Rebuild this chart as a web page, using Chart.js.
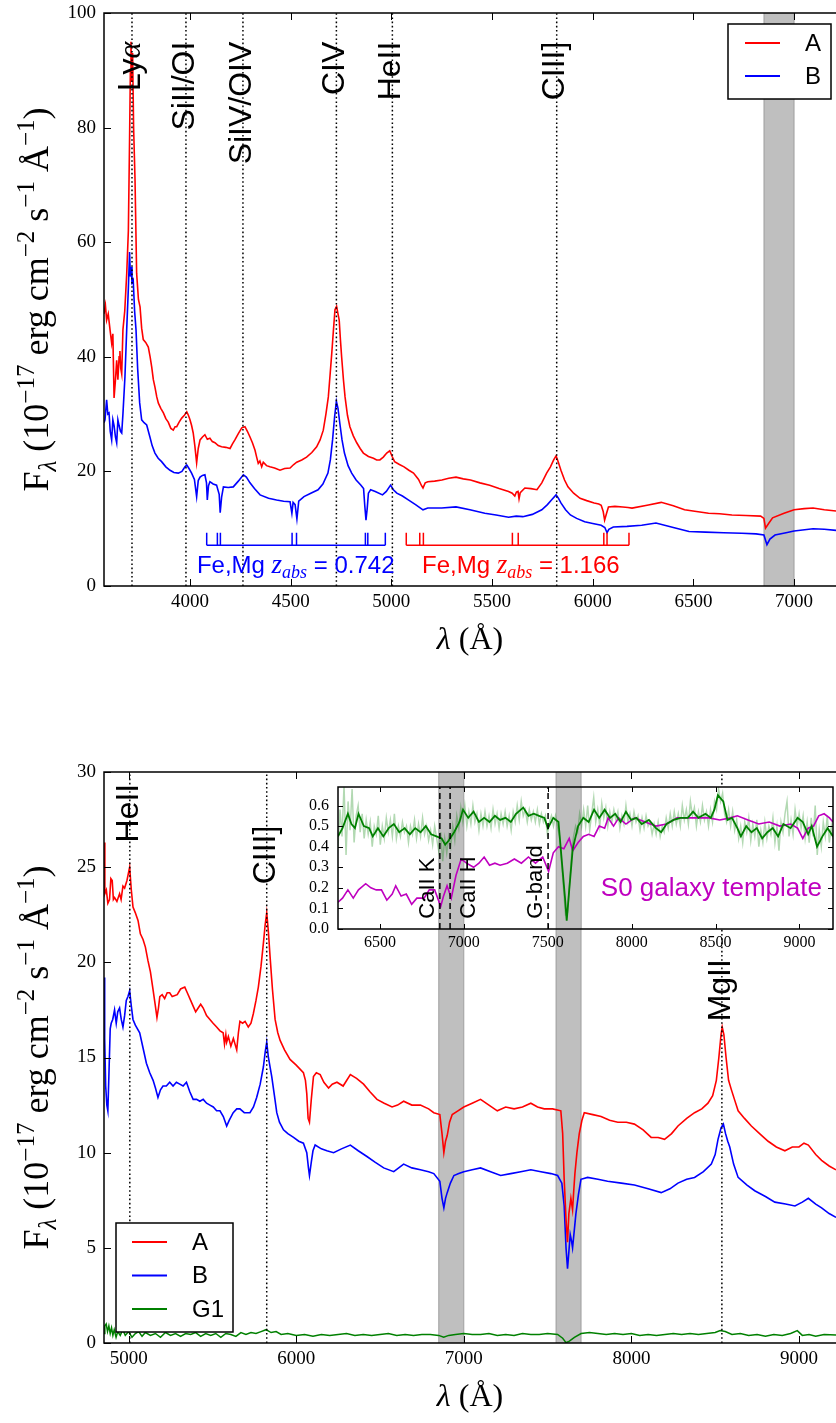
<!DOCTYPE html>
<html>
<head>
<meta charset="utf-8">
<script src="https://cdn.jsdelivr.net/npm/chart.js@4.4.0/dist/chart.umd.min.js"></script>
<style>
  body { margin: 0; background: #fff; width: 836px; height: 1423px; position: relative; overflow: hidden; }
  canvas { position: absolute; }
</style>
</head>
<body>
<canvas id="top" width="836" height="700" style="left:0;top:0"></canvas>
<canvas id="bot" width="836" height="723" style="left:0;top:700px"></canvas>
<canvas id="ins" width="556" height="200" style="left:280px;top:760px"></canvas>
<script>
// ---- data: [wavelength (A), flux] ----
const topA = [[3573,47.5],[3580,49],[3586,46.4],[3594,47.5],[3603,44.7],[3611,42.4],[3617,44],[3623,32.8],[3630,36],[3636,39.4],
  [3642,36],[3648,40],[3652,41],[3656,38],[3661,37],[3667,44.7],[3676,48],[3686,54.6],[3694,62],[3700,78],[3704,90],[3707,95],
  [3711,88],[3715,93],[3720,80],[3727,71],[3735,54.6],[3744,50],[3752,48.7],[3760,45],[3768,43],[3780,42.5],[3793,41.7],[3802,40],
  [3810,38.2],[3818,36],[3826,34.7],[3835,33],[3843,31.9],[3855,31],[3868,30.2],[3880,29.2],[3892,28.6],[3905,27.5],[3917,27.2],
  [3926,27.8],[3934,27.8],[3946,28.6],[3959,29.3],[3972,29.8],[3984,30.4],[3992,29.8],[4000,29],[4008,28],[4016,26.7],[4024,24.5],
  [4033,21.5],[4041,24],[4050,25.5],[4062,26],[4074,26.4],[4086,25.6],[4099,25.8],[4111,25.2],[4124,25],[4140,24.5],[4157,24.3],
  [4178,24.2],[4199,24],[4211,24.8],[4223,25.5],[4240,26.6],[4257,27.6],[4273,27.8],[4285,27],[4298,26],[4310,25],[4323,23.7],
  [4331,22.5],[4339,21.4],[4347,21.8],[4356,20.8],[4364,21.6],[4380,21],[4397,20.8],[4420,20.6],[4447,20.2],[4470,20.5],[4497,20.6],
  [4515,21.2],[4530,21.6],[4555,22],[4579,22.5],[4605,23.3],[4629,24.3],[4646,25.5],[4662,27.2],[4675,30],[4687,33],[4696,37],
  [4704,40.6],[4712,44.5],[4720,48.2],[4728,48.8],[4735,47.5],[4741,46.4],[4747,43],[4753,40],[4762,36],[4770,33],[4782,29.8],
  [4794,27.8],[4811,26.2],[4828,25],[4845,24],[4861,23.2],[4886,22.6],[4911,22.3],[4927,22],[4943,22],[4960,22.5],[4977,23.2],
  [4992,23.6],[5004,22.6],[5016,21.7],[5040,21.2],[5063,20.8],[5087,20.2],[5110,19.7],[5135,18.6],[5150,17.5],[5157,17.1],[5168,18],
  [5181,18.2],[5215,18.3],[5251,18.5],[5285,18.8],[5321,19],[5357,18.7],[5393,18.5],[5440,18],[5488,17.6],[5535,17],[5582,16.5],
  [5600,16.2],[5613,15.7],[5621,16.4],[5629,16.5],[5634,15.2],[5640,16.3],[5663,17.1],[5693,17],[5723,16.8],[5747,18],[5771,19.7],
  [5790,20.8],[5806,22],[5818,22.7],[5830,21.5],[5842,20.2],[5860,18.5],[5877,17.3],[5905,16.2],[5937,15.3],[5970,14.9],[6007,14.5],
  [6030,14.3],[6042,14.1],[6052,13],[6059,11.5],[6068,12.6],[6078,13.8],[6110,13.9],[6149,13.8],[6175,13.7],[6195,13.6],[6270,14.1],
  [6340,14.6],[6400,14],[6456,13.3],[6515,13],[6575,12.7],[6630,12.6],[6691,12.4],[6760,12.3],[6834,12.2],[6850,11.8],[6858,10.1],
  [6875,11],[6893,11.9],[6950,12.7],[7000,13.3],[7050,13.5],[7094,13.6],[7150,13.3],[7208,13.1]];

const topB = [[3573,28.5],[3578,29],[3586,32.5],[3592,30],[3598,30.2],[3604,27],[3611,25.5],[3617,29],[3623,28],[3630,26],
  [3636,25],[3642,29],[3648,28],[3655,27],[3661,26.7],[3667,30],[3677,36.5],[3686,45],[3694,52],[3700,58.3],[3704,54],[3708,55.7],
  [3712,53],[3718,53.4],[3725,48],[3732,44.7],[3740,38],[3750,32],[3760,29],[3772,28.5],[3785,28.1],[3801,26],[3812,24.5],[3826,23.2],
  [3842,22.3],[3859,21.7],[3880,20.8],[3901,20.2],[3920,19.8],[3942,19.7],[3960,20],[3975,20.8],[3984,21.1],[3995,20.5],[4008,19.7],
  [4022,18.6],[4033,15.6],[4041,18.4],[4050,19],[4062,19.3],[4074,19.4],[4082,18],[4086,15],[4092,17.5],[4099,18.2],[4115,17.8],
  [4132,17.6],[4145,16],[4150,12.8],[4157,15.5],[4166,17.3],[4190,17.2],[4215,17.3],[4240,18.3],[4265,19.4],[4280,19],[4298,18],
  [4320,17],[4348,15.9],[4390,15.3],[4430,15],[4465,14.8],[4497,14.7],[4506,12.7],[4512,14.6],[4522,14.2],[4531,11.7],[4540,14.8],
  [4566,15.6],[4600,16.2],[4636,16.8],[4660,17.8],[4685,19.7],[4697,22],[4708,25.5],[4718,29.5],[4727,32.2],[4735,31],[4744,28.4],
  [4755,25.5],[4767,23.2],[4785,21],[4803,19.7],[4825,18.5],[4849,17.6],[4862,17],[4868,14],[4874,11.5],[4880,13.5],[4886,16.2],
  [4897,16.8],[4920,16.5],[4956,15.9],[4975,16.5],[4996,17.6],[5010,16.8],[5027,16.2],[5055,15.7],[5086,15],[5120,14.2],[5157,13.3],
  [5181,13.6],[5250,13.6],[5321,13.8],[5390,13.3],[5464,12.7],[5520,12.4],[5582,12],[5620,12.2],[5653,12.1],[5700,12.5],[5747,13.3],
  [5775,14.2],[5795,15],[5818,15.9],[5830,15.3],[5842,14.5],[5865,13.3],[5889,12.4],[5920,11.8],[5960,11.2],[6000,10.9],[6042,10.6],
  [6060,10.2],[6071,9.3],[6080,9.9],[6102,10.3],[6170,10.4],[6243,10.6],[6314,11],[6400,10.2],[6478,9.5],[6560,9.4],[6650,9.3],
  [6740,9.2],[6811,9.1],[6850,8.9],[6865,7.2],[6880,8.2],[6905,8.9],[6960,9.3],[7000,9.6],[7094,10],[7150,9.9],[7208,9.7]];

const botA = [[4853,26.3],[4858,23.6],[4867,23.8],[4876,23.1],[4886,23.3],[4894,24.4],[4902,24.3],[4909,23.3],[4916,23.4],[4930,23.2],
  [4946,23.6],[4955,23.3],[4966,24],[4976,23.9],[4990,24.3],[5006,25],[5016,23.8],[5026,22.9],[5040,22.6],[5056,22.2],[5070,21.5],
  [5086,21.2],[5100,20.8],[5115,20.1],[5130,19.5],[5145,18.6],[5158,17.8],[5169,17.1],[5178,17.6],[5186,18.2],[5200,18.3],[5215,18.1],
  [5230,18.4],[5245,18.4],[5260,18.2],[5290,18.3],[5310,18.6],[5335,18.7],[5350,18.4],[5370,18],[5385,17.7],[5400,17.4],[5415,17.6],
  [5430,17.8],[5445,17.6],[5465,17.2],[5485,17],[5504,16.8],[5525,16.6],[5545,16.4],[5564,16.3],[5572,15.7],[5580,16.2],[5585,15.8],
  [5595,16.1],[5610,15.6],[5625,16],[5645,15.4],[5655,16.3],[5664,16.9],[5680,16.8],[5695,16.9],[5714,16.6],[5730,16.8],[5744,17.3],
  [5760,18],[5774,18.7],[5790,19.8],[5804,21],[5815,22],[5824,22.6],[5834,21.6],[5844,20.3],[5858,18.6],[5874,17],[5890,16.3],
  [5904,15.9],[5930,15.4],[5963,14.9],[6000,14.6],[6043,14.2],[6055,13.8],[6063,13.1],[6071,11.8],[6079,11.6],[6090,12.8],[6103,14],
  [6120,14.2],[6143,14.1],[6165,13.7],[6193,13.4],[6215,13.6],[6243,13.7],[6280,13.5],[6323,14.1],[6360,13.9],[6402,13.6],[6440,13.2],
  [6482,12.8],[6525,12.6],[6572,12.4],[6605,12.5],[6641,12.7],[6690,12.5],[6741,12.5],[6790,12.3],[6821,12.1],[6857,12],[6870,11],
  [6881,10],[6891,10.6],[6901,10.9],[6915,11.6],[6931,12],[6965,12.2],[7000,12.4],[7050,12.6],[7100,12.8],[7150,12.5],[7200,12.2],
  [7250,12.4],[7300,12.3],[7350,12.4],[7400,12.6],[7440,12.4],[7480,12.3],[7530,12.3],[7579,12.2],[7590,11],[7599,8.6],[7610,6.5],
  [7619,5.3],[7627,6.8],[7639,7.6],[7649,7],[7656,8],[7663,8.9],[7675,10],[7689,11],[7705,11.7],[7719,12.1],[7770,12],[7819,11.9],
  [7870,11.7],[7919,11.6],[7970,11.6],[8018,11.5],[8070,11.2],[8118,10.8],[8160,10.8],[8198,10.7],[8240,11],[8278,11.4],[8330,11.8],
  [8377,12.1],[8420,12.3],[8457,12.6],[8485,13],[8507,13.8],[8522,15],[8535,16.2],[8542,16.6],[8552,16.2],[8565,15],[8580,13.8],
  [8597,13.3],[8615,12.8],[8637,12.2],[8675,11.8],[8716,11.4],[8765,11],[8816,10.6],[8865,10.3],[8916,10.1],[8960,10.3],[9000,10.3],
  [9030,10.5],[9056,10.4],[9100,9.9],[9135,9.6],[9180,9.3],[9221,9.1]];

const botB = [[4853,19.2],[4857,16],[4863,13.5],[4870,12.5],[4876,12.2],[4882,14],[4890,16.5],[4896,16.8],[4905,17],[4916,17.5],
  [4926,16.8],[4935,17.4],[4946,17.6],[4956,17],[4966,16.6],[4976,17.2],[4986,18],[4996,18.2],[5006,18.5],[5016,17.7],[5026,17],
  [5040,16.7],[5066,16.3],[5086,15.5],[5106,14.7],[5126,14.2],[5146,13.8],[5160,13.4],[5175,12.9],[5190,13.3],[5205,13.5],[5225,13.5],
  [5245,13.7],[5265,13.5],[5285,13.7],[5305,13.6],[5325,13.5],[5345,13.7],[5365,13.2],[5385,12.8],[5405,12.8],[5425,12.7],[5445,12.8],
  [5465,12.6],[5485,12.5],[5505,12.4],[5525,12.2],[5545,12.2],[5565,11.9],[5585,11.4],[5600,11.7],[5624,12.1],[5645,12.3],[5664,12.3],
  [5690,12.1],[5724,12.1],[5745,12.4],[5764,12.9],[5785,13.6],[5804,14.5],[5815,15.3],[5824,15.8],[5834,15],[5854,14],[5870,13],
  [5884,12.1],[5900,11.6],[5924,11.2],[5950,11],[5984,10.8],[6015,10.6],[6043,10.5],[6063,10],[6073,9.2],[6079,8.8],[6090,9.5],
  [6100,10.1],[6113,10.4],[6150,10.2],[6183,10.1],[6223,10],[6270,10.2],[6323,10.4],[6370,10.1],[6422,9.8],[6470,9.5],[6522,9.2],
  [6582,9],[6641,9.4],[6690,9.2],[6741,9.1],[6790,9],[6821,8.9],[6857,8.5],[6870,7.6],[6881,7.1],[6891,7.6],[6901,7.9],[6920,8.4],
  [6941,8.8],[6970,8.9],[7000,9],[7050,9.1],[7100,9.2],[7160,9],[7220,8.8],[7280,8.9],[7340,9],[7400,9.1],[7460,9],[7520,8.9],
  [7560,8.8],[7585,8.4],[7599,7.2],[7610,5],[7619,3.9],[7627,4.8],[7635,5.7],[7642,5.4],[7649,5],[7658,5.8],[7669,6.8],[7684,7.8],
  [7699,8.6],[7739,8.7],[7800,8.6],[7858,8.5],[7940,8.4],[8018,8.3],[8100,8.1],[8178,7.9],[8230,8.1],[8278,8.4],[8330,8.6],[8377,8.7],
  [8430,9],[8477,9.4],[8500,9.9],[8517,10.7],[8535,11.3],[8549,11.5],[8562,11],[8575,10.6],[8587,10.3],[8610,9.4],[8637,8.7],
  [8690,8.3],[8736,8],[8800,7.7],[8856,7.4],[8920,7.3],[8976,7.2],[9020,7.4],[9056,7.6],[9100,7.3],[9135,7.1],[9180,6.8],[9221,6.6]];

const botG1 = [[4853,0.5],[4858,0.9],[4866,1.0],[4874,0.6],[4882,0.9],[4890,0.5],[4898,0.8],[4906,0.4],[4914,0.7],[4925,0.3],
  [4935,0.6],[4950,0.4],[4965,0.7],[4980,0.4],[5000,0.6],[5020,0.3],[5040,0.5],[5060,0.6],[5080,0.35],[5100,0.55],[5130,0.4],
  [5160,0.5],[5190,0.3],[5220,0.55],[5250,0.4],[5280,0.5],[5310,0.35],[5340,0.5],[5370,0.45],[5400,0.55],[5430,0.35],[5460,0.5],
  [5490,0.4],[5520,0.5],[5550,0.3],[5580,0.5],[5610,0.45],[5640,0.35],[5670,0.55],[5700,0.45],[5730,0.55],[5760,0.5],[5790,0.6],
  [5820,0.7],[5850,0.55],[5880,0.6],[5910,0.45],[5950,0.5],[6000,0.4],[6050,0.45],[6100,0.35],[6150,0.45],[6200,0.4],[6250,0.45],
  [6300,0.5],[6350,0.4],[6400,0.45],[6450,0.4],[6500,0.45],[6550,0.5],[6600,0.4],[6650,0.45],[6700,0.4],[6750,0.45],[6800,0.45],
  [6850,0.4],[6880,0.3],[6910,0.4],[6950,0.45],[7000,0.5],[7050,0.45],[7100,0.45],[7150,0.5],[7200,0.4],[7250,0.45],[7300,0.4],
  [7350,0.5],[7400,0.45],[7450,0.45],[7500,0.5],[7560,0.45],[7590,0.25],[7610,0.02],[7630,0.1],[7660,0.3],[7700,0.5],[7750,0.55],
  [7800,0.5],[7850,0.45],[7900,0.5],[7950,0.45],[8000,0.5],[8050,0.4],[8100,0.45],[8150,0.4],[8200,0.45],[8250,0.5],[8300,0.45],
  [8350,0.5],[8400,0.45],[8450,0.5],[8500,0.55],[8530,0.65],[8560,0.6],[8600,0.45],[8650,0.5],[8700,0.4],[8750,0.45],[8800,0.35],
  [8850,0.45],[8900,0.4],[8950,0.5],[8990,0.65],[9020,0.4],[9060,0.45],[9100,0.35],[9150,0.45],[9221,0.42]];

// inset: normalised G1 (smoothed and raw) and the S0 template
const insG1 = [[6250,.45],[6277,.49],[6309,.56],[6330,.51],[6351,.49],[6372,.56],[6404,.50],[6436,.49],[6457,.45],[6488,.49],
  [6520,.45],[6552,.49],[6583,.51],[6615,.47],[6647,.49],[6678,.46],[6710,.49],[6742,.47],[6773,.50],[6805,.46],[6837,.45],
  [6868,.44],[6889,.41],[6910,.43],[6942,.47],[6974,.52],[6995,.58],[7026,.54],[7058,.57],[7090,.52],[7121,.54],[7153,.52],
  [7185,.55],[7216,.53],[7248,.54],[7280,.52],[7311,.56],[7354,.59],[7385,.55],[7417,.56],[7448,.55],[7480,.54],[7501,.49],
  [7533,.54],[7564,.52],[7586,.31],[7603,.15],[7613,.04],[7628,.19],[7649,.39],[7681,.50],[7712,.54],[7744,.52],[7776,.58],
  [7807,.54],[7839,.58],[7871,.54],[7902,.56],[7934,.52],[7966,.57],[7997,.53],[8029,.54],[8060,.51],[8103,.53],[8145,.49],
  [8176,.47],[8208,.51],[8250,.53],[8292,.54],[8335,.54],[8366,.57],[8398,.54],[8440,.56],[8472,.54],[8493,.58],[8514,.65],
  [8546,.62],[8571,.53],[8598,.54],[8630,.49],[8651,.45],[8683,.50],[8714,.47],[8746,.49],[8778,.44],[8809,.47],[8841,.49],
  [8873,.45],[8904,.51],[8947,.49],[8989,.54],[9020,.52],[9052,.46],[9073,.50],[9105,.40],[9137,.45],[9168,.49],[9200,.45]];

const insRaw = [[6250,.40],[6262,.58],[6274,.45],[6286,.70],[6298,.36],[6310,.62],[6322,.48],[6334,.68],[6346,.42],[6358,.55],
  [6370,.60],[6382,.47],[6394,.56],[6406,.44],[6418,.53],[6430,.46],[6442,.52],[6454,.40],[6466,.50],[6478,.46],[6490,.55],
  [6502,.41],[6514,.50],[6526,.44],[6538,.54],[6550,.47],[6562,.53],[6574,.45],[6586,.56],[6598,.44],[6610,.50],[6622,.45],
  [6634,.52],[6646,.47],[6658,.50],[6670,.42],[6682,.50],[6694,.46],[6706,.53],[6718,.44],[6730,.51],[6742,.45],[6754,.54],
  [6766,.46],[6778,.50],[6790,.43],[6802,.48],[6814,.41],[6826,.50],[6838,.44],[6850,.38],[6862,.47],[6874,.33],[6886,.44],
  [6898,.37],[6910,.45],[6922,.40],[6934,.50],[6946,.43],[6958,.55],[6970,.49],[6982,.59],[6994,.52],[7006,.60],[7018,.50],
  [7030,.57],[7042,.51],[7054,.60],[7066,.52],[7078,.56],[7090,.48],[7102,.56],[7114,.50],[7126,.57],[7138,.50],[7150,.55],
  [7162,.49],[7174,.58],[7186,.51],[7198,.56],[7210,.49],[7222,.56],[7234,.51],[7246,.57],[7258,.50],[7270,.55],[7282,.48],
  [7294,.57],[7306,.52],[7318,.60],[7330,.53],[7342,.62],[7354,.55],[7366,.58],[7378,.52],[7390,.58],[7402,.53],[7414,.57],
  [7426,.52],[7438,.58],[7450,.51],[7462,.56],[7474,.52],[7486,.55],[7498,.46],[7510,.52],[7522,.55],[7534,.50],[7546,.55],
  [7558,.50],[7570,.45],[7582,.33],[7594,.20],[7606,.07],[7618,.08],[7630,.22],[7642,.36],[7654,.45],[7666,.50],[7678,.47],
  [7690,.56],[7702,.50],[7714,.58],[7726,.50],[7738,.60],[7750,.48],[7762,.56],[7774,.64],[7786,.52],[7798,.58],[7810,.50],
  [7822,.61],[7834,.54],[7846,.59],[7858,.50],[7870,.57],[7882,.52],[7894,.58],[7906,.53],[7918,.57],[7930,.49],[7942,.55],
  [7954,.51],[7966,.60],[7978,.52],[7990,.56],[8002,.50],[8014,.57],[8026,.52],[8038,.55],[8050,.48],[8062,.54],[8074,.49],
  [8086,.55],[8098,.50],[8110,.52],[8122,.46],[8134,.51],[8146,.46],[8158,.52],[8170,.45],[8182,.50],[8194,.47],[8206,.54],
  [8218,.49],[8230,.56],[8242,.50],[8254,.57],[8266,.51],[8278,.56],[8290,.50],[8302,.60],[8314,.53],[8326,.58],[8338,.51],
  [8350,.62],[8362,.55],[8374,.59],[8386,.50],[8398,.57],[8410,.52],[8422,.60],[8434,.53],[8446,.57],[8458,.50],[8470,.58],
  [8482,.52],[8494,.62],[8506,.58],[8518,.68],[8530,.62],[8542,.66],[8554,.56],[8566,.52],[8578,.58],[8590,.50],[8602,.57],
  [8614,.48],[8626,.53],[8638,.44],[8650,.50],[8662,.42],[8674,.52],[8686,.47],[8698,.54],[8710,.43],[8722,.51],[8734,.45],
  [8746,.53],[8758,.40],[8770,.48],[8782,.42],[8794,.52],[8806,.44],[8818,.50],[8830,.46],[8842,.54],[8854,.42],[8866,.50],
  [8878,.38],[8890,.52],[8902,.47],[8914,.56],[8926,.62],[8938,.45],[8950,.53],[8962,.46],[8974,.58],[8986,.50],[8998,.56],
  [9010,.49],[9022,.55],[9034,.44],[9046,.52],[9058,.42],[9070,.54],[9082,.45],[9094,.60],[9106,.36],[9118,.48],[9130,.40],
  [9142,.52],[9154,.45],[9166,.55],[9178,.42],[9190,.50],[9200,.44]];

const insS0 = [[6250,.13],[6277,.15],[6309,.19],[6341,.15],[6372,.19],[6415,.22],[6446,.20],[6478,.19],[6509,.19],[6541,.14],
  [6573,.17],[6594,.21],[6626,.16],[6657,.17],[6689,.12],[6720,.15],[6763,.15],[6794,.19],[6826,.19],[6862,.11],[6879,.16],
  [6900,.21],[6925,.15],[6953,.26],[6984,.34],[7016,.32],[7058,.30],[7090,.32],[7121,.35],[7153,.31],[7185,.32],[7216,.31],
  [7259,.32],[7301,.34],[7343,.32],[7385,.35],[7427,.32],[7470,.35],[7505,.28],[7533,.37],[7564,.40],[7596,.39],[7628,.44],
  [7649,.38],[7681,.42],[7712,.45],[7744,.46],[7776,.45],[7807,.50],[7839,.49],[7860,.54],[7892,.50],[7923,.54],[7966,.51],
  [8018,.54],[8081,.52],[8145,.50],[8208,.51],[8271,.54],[8335,.54],[8398,.54],[8461,.54],[8525,.53],[8588,.54],[8630,.55],
  [8693,.53],[8757,.51],[8820,.52],[8883,.50],[8947,.51],[8989,.49],[9020,.44],[9052,.49],[9084,.50],[9115,.55],[9147,.56],
  [9179,.54],[9200,.52]];

// tick labels
const topXTicks = [4000, 4500, 5000, 5500, 6000, 6500, 7000];
const topYTicks = [0, 20, 40, 60, 80, 100];
const botXTicks = [5000, 6000, 7000, 8000, 9000];
const botYTicks = [0, 5, 10, 15, 20, 25, 30];
const insXTicks = [6500, 7000, 7500, 8000, 8500, 9000];
const insYTicks = [0, 0.1, 0.2, 0.3, 0.4, 0.5, 0.6];

// emission / absorption line positions and names
const topLines = [3712, 3980, 4263, 4727, 5005, 5821];
const topLineNames = ['Lyα', 'SiII/OI', 'SiIV/OIV', 'CIV', 'HeII', 'CIII]'];
const botLines = [5007, 5824, 8540];
const botLineNames = ['HeII', 'CIII]', 'MgII'];
const botLineLabelY = [26.3, 24.1, 16.9];
const insLines = [6857, 6918, 7502];
const insLineNames = ['CaII K', 'CaII H', 'G-band'];
const telluric = [[6850, 7000], [7550, 7700]];
const absBlue = [4083, 4136, 4151, 4507, 4529, 4871, 4883, 4970];
const absRed = [5074, 5141, 5159, 5601, 5630, 6055, 6071, 6180];
const absZ = ['0.742', '1.166'];

const SANS = '"Liberation Sans", Arial, sans-serif';
const SERIF = '"Liberation Serif", "Times New Roman", serif';

function pts(pairs) { return pairs.map(p => ({ x: p[0], y: p[1] })); }
function vlines(xs, lo, hi) {
  const out = [];
  xs.forEach(x => { out.push({ x: x, y: lo }, { x: x, y: hi }, { x: x, y: null }); });
  return out;
}
function bracket(xs, base, top) {
  const out = [{ x: xs[0], y: base }, { x: xs[xs.length - 1], y: base }, { x: xs[0], y: null }];
  xs.forEach(x => { out.push({ x: x, y: base }, { x: x, y: top }, { x: x, y: null }); });
  return out;
}
function line(data, color, w, extra) {
  return Object.assign({ data: data, borderColor: color, backgroundColor: color, borderWidth: w,
    showLine: true, pointRadius: 0, tension: 0, spanGaps: false, fill: false }, extra || {});
}

// mixed-font text, optionally rotated to read bottom-to-top
function rich(ctx, segs, x, y, rot, align) {
  ctx.save();
  ctx.translate(x, y);
  if (rot) ctx.rotate(-Math.PI / 2);
  let w = 0;
  segs.forEach(s => { ctx.font = s.f; w += ctx.measureText(s.t).width; });
  let cx = align === 'end' ? -w : align === 'center' ? -w / 2 : 0;
  ctx.textAlign = 'left';
  ctx.textBaseline = 'alphabetic';
  segs.forEach(s => {
    ctx.font = s.f;
    ctx.fillStyle = s.c || '#000';
    ctx.fillText(s.t, cx, s.dy || 0);
    cx += ctx.measureText(s.t).width;
  });
  ctx.restore();
}
function nameSegs(name, size) {
  return name.split(/(α)/).filter(Boolean).map(t =>
    ({ t: t, f: t === 'α' ? 'italic ' + size + 'px ' + SERIF : size + 'px ' + SANS }));
}
const big = '36px ' + SERIF, small = '25px ' + SERIF;
const yTitle = [{ t: 'F', f: big }, { t: 'λ', f: 'italic ' + small, dy: 8 }, { t: ' (10', f: big },
  { t: '−17', f: small, dy: -14 }, { t: ' erg cm', f: big }, { t: '−2', f: small, dy: -14 },
  { t: ' s', f: big }, { t: '−1', f: small, dy: -14 }, { t: ' Å', f: big }, { t: '−1', f: small, dy: -14 },
  { t: ')', f: big }];
const xTitle = [{ t: 'λ', f: 'italic 32px ' + SERIF }, { t: ' (Å)', f: '32px ' + SERIF }];

function frame(chart, f) {
  const { ctx, chartArea: a, scales: { x, y } } = chart;
  ctx.save();
  ctx.strokeStyle = '#000';
  ctx.lineWidth = 1;
  ctx.beginPath();
  x.ticks.forEach(t => {
    const p = Math.round(x.getPixelForValue(t.value)) + 0.5;
    ctx.moveTo(p, a.bottom); ctx.lineTo(p, a.bottom - f.tl);
    ctx.moveTo(p, a.top); ctx.lineTo(p, a.top + f.tl);
  });
  y.ticks.forEach(t => {
    const p = Math.round(y.getPixelForValue(t.value)) + 0.5;
    ctx.moveTo(a.left, p); ctx.lineTo(a.left + f.tl, p);
    if (f.right) { ctx.moveTo(a.right, p); ctx.lineTo(a.right - f.tl, p); }
  });
  ctx.stroke();
  ctx.lineWidth = 1.5;
  ctx.beginPath();
  if (f.right) ctx.rect(a.left, a.top, a.right - a.left, a.bottom - a.top);
  else {
    ctx.moveTo(a.right + 2, a.top); ctx.lineTo(a.left, a.top);
    ctx.lineTo(a.left, a.bottom); ctx.lineTo(a.right + 2, a.bottom);
  }
  ctx.stroke();
  ctx.restore();
}

function legend(chart, L) {
  const ctx = chart.ctx;
  const items = chart.data.datasets.filter(d => d.inLegend);
  ctx.save();
  ctx.fillStyle = '#fff';
  ctx.fillRect(L.x, L.y, L.w, L.h);
  ctx.strokeStyle = '#000';
  ctx.lineWidth = 1.5;
  ctx.strokeRect(L.x, L.y, L.w, L.h);
  items.forEach((d, i) => {
    const yy = L.y0 + i * L.dy;
    ctx.strokeStyle = d.borderColor;
    ctx.lineWidth = 2;
    ctx.beginPath(); ctx.moveTo(L.x1, yy); ctx.lineTo(L.x2, yy); ctx.stroke();
    ctx.fillStyle = '#000';
    ctx.font = '24px ' + SANS;
    ctx.textBaseline = 'middle';
    ctx.textAlign = 'left';
    ctx.fillText(d.label, L.tx, yy + 1);
  });
  ctx.restore();
}

function makeDecor(c) {
  return {
    id: 'decor',
    beforeDraw(chart) {
      if (!c.white) return;
      const a = chart.chartArea, ctx = chart.ctx;
      ctx.save();
      ctx.fillStyle = '#fff';
      ctx.fillRect(a.left, a.top, a.right - a.left, a.bottom - a.top);
      ctx.restore();
    },
    beforeDatasetsDraw(chart) {
      const { ctx, chartArea: a, scales: { x } } = chart;
      ctx.save();
      c.bands.forEach(b => {
        const p0 = Math.max(x.getPixelForValue(b[0]), a.left);
        const p1 = Math.min(x.getPixelForValue(b[1]), a.right);
        if (p1 <= p0) return;
        ctx.fillStyle = 'rgba(128,128,128,0.5)';
        ctx.fillRect(p0, a.top, p1 - p0, a.bottom - a.top);
        ctx.strokeStyle = 'rgba(128,128,128,0.5)';
        ctx.lineWidth = 1.2;
        ctx.beginPath();
        ctx.moveTo(p0, a.top); ctx.lineTo(p0, a.bottom);
        ctx.moveTo(p1, a.top); ctx.lineTo(p1, a.bottom);
        ctx.stroke();
      });
      ctx.restore();
    },
    afterDatasetsDraw(chart) {
      const { ctx, chartArea: a, scales: { x, y } } = chart;
      c.labels.forEach(L => rich(ctx, L.segs, x.getPixelForValue(L.x) + (L.dx || 0),
        y.getPixelForValue(L.y), L.rot, L.align));
      frame(chart, c.frame);
      if (c.legend) legend(chart, c.legend);
      if (c.titles) {
        rich(ctx, yTitle, 48, (a.top + a.bottom) / 2, true, 'center');
        rich(ctx, xTitle, (a.left + a.right) / 2, a.bottom + 63, false, 'center');
      }
    }
  };
}

function scales(o) {
  return {
    x: {
      type: 'linear', min: o.xmin, max: o.xmax,
      grid: { display: false, drawTicks: false }, border: { display: false },
      ticks: { autoSkip: false, maxRotation: 0, padding: o.xpad,
        color: '#000', font: { family: 'Liberation Serif', size: o.fs }, callback: v => String(v) },
      afterBuildTicks: s => { s.ticks = o.xticks.map(v => ({ value: v })); },
      afterFit: s => { s.height = o.xh; s.paddingLeft = 0; s.paddingRight = 0; }
    },
    y: {
      type: 'linear', min: o.ymin, max: o.ymax,
      grid: { display: false, drawTicks: false }, border: { display: false },
      ticks: { autoSkip: false, padding: o.ypad,
        color: '#000', font: { family: 'Liberation Serif', size: o.fs }, callback: o.yfmt },
      afterBuildTicks: s => { s.ticks = o.yticks.map(v => ({ value: v })); },
      afterFit: s => { s.width = o.yw; s.paddingTop = 0; s.paddingBottom = 0; }
    }
  };
}

function base(padding, sc) {
  return {
    responsive: false, animation: false, events: [], devicePixelRatio: 1,
    layout: { padding: padding },
    plugins: { legend: { display: false }, tooltip: { enabled: false } },
    scales: sc
  };
}

// ---------- top panel ----------
const dotted = { borderDash: [1.6, 2.6], order: 0 };
const felabel = (z, c) => [{ t: 'Fe,Mg ', f: '24px ' + SANS, c: c }, { t: 'z', f: 'italic 27px ' + SERIF, c: c },
  { t: 'abs', f: 'italic 18px ' + SERIF, c: c, dy: 5 }, { t: ' = ' + z, f: '24px ' + SANS, c: c }];

new Chart(document.getElementById('top'), {
  type: 'scatter',
  data: { datasets: [
    line(pts(topA), '#ff0000', 1.6, { label: 'A', inLegend: true, order: 2 }),
    line(pts(topB), '#0000ff', 1.6, { label: 'B', inLegend: true, order: 2 }),
    line(vlines(topLines, 0, 100), '#000', 1.5, dotted),
    line(bracket(absBlue, 7.1, 9.3), '#0000ff', 1.5, { order: 1 }),
    line(bracket(absRed, 7.1, 9.3), '#ff0000', 1.5, { order: 1 })
  ] },
  options: base({ top: 13, left: 0, right: 0, bottom: 84 },
    scales({ xmin: 3573, xmax: 7208, xticks: topXTicks, ymin: 0, ymax: 100, yticks: topYTicks, fs: 19,
      xpad: 5, ypad: 8, xh: 30, yw: 104, yfmt: v => String(v) })),
  plugins: [makeDecor({
    bands: [telluric[0]],
    frame: { tl: 7, right: false },
    titles: true,
    legend: { x: 728, y: 24, w: 103, h: 75, y0: 43, dy: 33, x1: 745, x2: 780, tx: 805 },
    labels: topLines.map((l, i) => ({ x: l, y: 95, dx: 7.7, rot: true, align: 'end', segs: nameSegs(topLineNames[i], 32) }))
      .concat([{ x: 4525, y: 2.3, align: 'center', segs: felabel(absZ[0], '#0000ff') },
               { x: 5643, y: 2.3, align: 'center', segs: felabel(absZ[1], '#ff0000') }])
  })]
});

// ---------- bottom panel ----------
new Chart(document.getElementById('bot'), {
  type: 'scatter',
  data: { datasets: [
    line(pts(botA), '#ff0000', 1.6, { label: 'A', inLegend: true, order: 2 }),
    line(pts(botB), '#0000ff', 1.6, { label: 'B', inLegend: true, order: 2 }),
    line(pts(botG1), '#008000', 1.5, { label: 'G1', inLegend: true, order: 3 }),
    line(vlines(botLines, 0, 30), '#000', 1.5, dotted)
  ] },
  options: base({ top: 72, left: 0, right: 0, bottom: 50 },
    scales({ xmin: 4853, xmax: 9221, xticks: botXTicks, ymin: 0, ymax: 30, yticks: botYTicks, fs: 19,
      xpad: 5, ypad: 8, xh: 30, yw: 104, yfmt: v => String(v) })),
  plugins: [makeDecor({
    bands: telluric,
    frame: { tl: 7, right: false },
    titles: true,
    legend: { x: 116, y: 523, w: 117, h: 109, y0: 542, dy: 33.5, x1: 132, x2: 167, tx: 192 },
    labels: botLines.map((l, i) => ({ x: l, y: botLineLabelY[i], dx: 8, rot: true, align: 'start',
      segs: nameSegs(botLineNames[i], 32) }))
  })]
});

// ---------- inset ----------
const insDx = [-6, 25, -6];
new Chart(document.getElementById('ins'), {
  type: 'scatter',
  data: { datasets: [
    line(pts(insRaw), 'rgba(0,128,0,0.3)', 1.5, { order: 4 }),
    line(pts(insS0), '#bf00bf', 1.6, { order: 3 }),
    line(pts(insG1), '#008000', 1.8, { order: 2 }),
    line(vlines(insLines, 0, 0.69), '#000', 1.5, { borderDash: [6, 4], order: 0 })
  ] },
  options: base({ top: 27, left: 0, right: 3, bottom: 7 },
    scales({ xmin: 6250, xmax: 9200, xticks: insXTicks, ymin: 0, ymax: 0.69, yticks: insYTicks, fs: 16,
      xpad: 4, ypad: 9, xh: 24, yw: 58, yfmt: v => v.toFixed(1) })),
  plugins: [makeDecor({
    white: true,
    bands: telluric,
    frame: { tl: 5, right: true },
    labels: insLines.map((l, i) => ({ x: l, y: 0.05, dx: insDx[i], rot: true, align: 'start',
      segs: nameSegs(insLineNames[i], 22) }))
      .concat([{ x: 9134, y: 0.16, align: 'end', segs: [{ t: 'S0 galaxy template', f: '26px ' + SANS, c: '#bf00bf' }] }])
  })]
});
</script>
</body>
</html>
